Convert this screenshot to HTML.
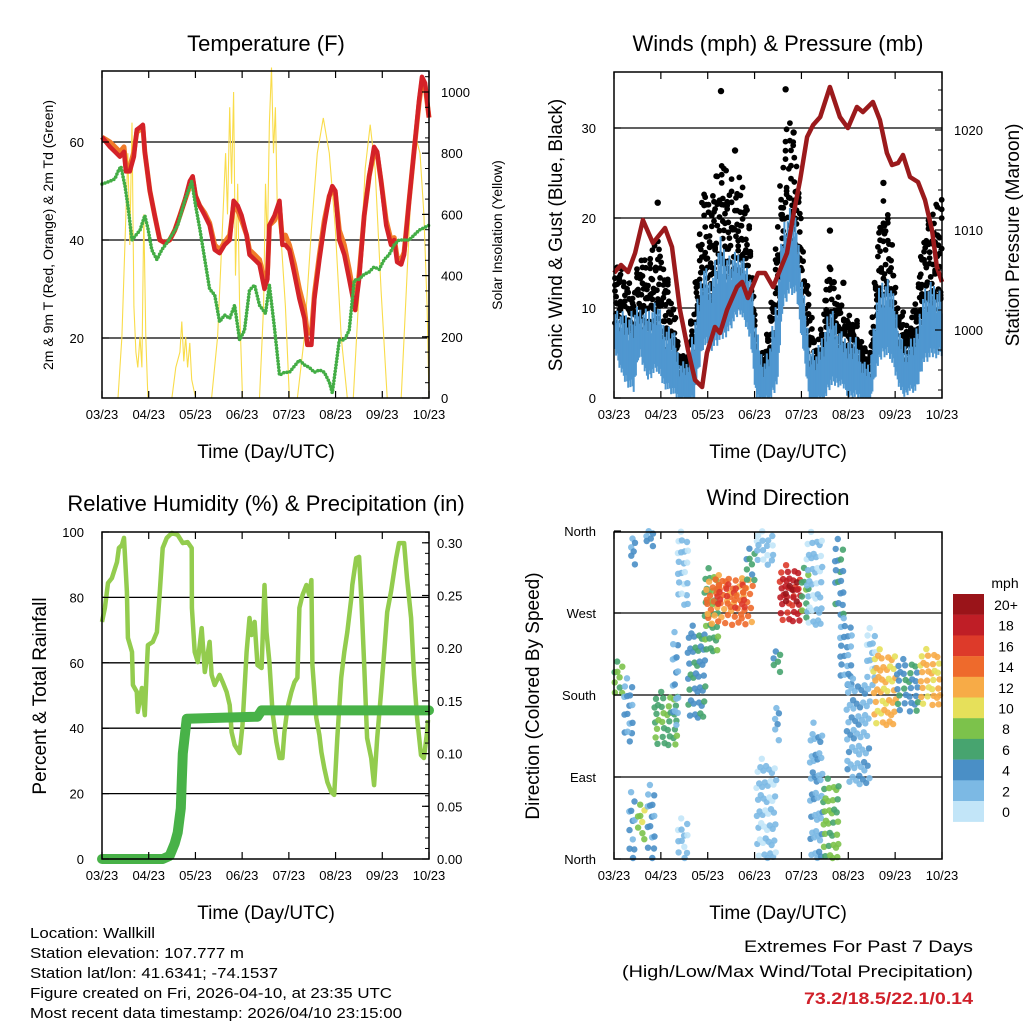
<!DOCTYPE html>
<html><head><meta charset="utf-8"><style>
html,body{margin:0;padding:0;background:#fff}
svg{display:block;font-family:"Liberation Sans",Arial,sans-serif}
</style></head><body>
<svg id="c" width="1024" height="1024" viewBox="0 0 1024 1024" xmlns="http://www.w3.org/2000/svg"></svg>
<script>
// ---------- DATA ----------
const xTickLabels = ["03/23","04/23","05/23","06/23","07/23","08/23","09/23","10/23"];
const tempH = [0,4.1,6.7,9.2,11.3,12.3,14.3,16.4,17.9,19.5,21,22,24.6,27.1,29.7,32.3,34.8,37.4,40,42.5,45.1,46.6,48.1,50.2,52.8,55.3,57.9,60.4,63,65.6,67.6,69.7,71.7,74.3,75.8,78.4,80.9,83.5,85,86,88.6,91.2,92.7,94.2,96.3,98.9,101.4,104,105.5,107.6,109.1,111.7,114.2,116.8,118.3,119.9,121.9,124.5,127,130.1,132.1,134.7,137.3,139.8,141.4,143.4,146,148.5,150.1,151.6,153.7,155.2,157.8,160.3,162.9,164.4,166,168];
const temp2m = [61,59,58,57,58,54,54,57,62.5,63,63.5,58,50,45,40,39.4,40,42,45,48,52,53,49,47,45,43,38,37.3,39,40,48,47,45,41,37,36,35,30,32,43,45,48,39,39,38,33,28,24,18.6,18.6,28,36,43,49,51,50,40,37,32,25.7,32,45,53,59,58,52,43,39,40,35.5,35,37,48,58,68.6,73.3,72,65];
const temp9m = [61,60,59,58,59,55,55,58,62,62.5,63,58,50,45,40,39.4,40,42,45,48,51,52.5,49,47,45.5,43.5,39,38,39.5,41,47,46,44,41,38,37,36,32,33,43,44,47,40,41,39,35,30,26,21,21,29,37,44,49,50,49.5,42,39,34,27,33,45,53,58,57.5,52,44,40,40.5,36.5,36,37.5,48,58,68,72.5,71.5,65];
const dewH = [0,4.1,6.7,8.2,9.7,11.8,13.3,15.4,17.4,19.5,22,23.6,25.6,28.2,30.7,33.3,35.9,38.9,42.5,46.1,48.1,50.2,52.8,55.3,57.9,60.4,63,65.6,68.1,70.7,73.2,75.8,78.4,80.9,84,86,88.6,91.2,93.7,96.3,101.4,104,106.5,109.1,111.7,114.2,116.8,118.3,120.4,121.9,124.5,127,129.6,132.1,134.7,137.3,139.8,142.4,145,147.5,150.1,152.6,157.8,162.9,168];
const dewV = [51.4,52,52.5,54,55,51,47,40,41,42,45,42.4,38,36,38,39.4,41,43,48,52,47,42.4,36,30,28.8,23.3,24.7,24,26.7,19.6,21.6,29.8,30.8,26.7,25,30.8,22,12.4,13,13,15.5,14.5,14,13,13.5,13,11,8.8,15,19.6,19.6,21.6,31.8,32,33,33.5,34.5,34,36,37,39,40,40,42,43];
const solarH = [0,8.2,10.2,12.3,13.3,14.3,15.4,16.4,17.4,18.4,19.5,20.5,21.5,22.5,23.6,35.9,37.9,40,41,42,43,44,45.1,46.1,48.1,56.3,59.4,61.5,63.5,64.5,65.6,66.6,67.6,68.6,69.7,70.7,72.2,80.9,83,84,85,86,87.1,88.1,89.1,90.1,92.2,94.2,96.3,100.4,104,107.6,110.6,113.7,116.8,119.9,122.9,126,129.1,132.1,135.2,137.8,140.3,143.4,146.5,153.7,156.7,159.3,161.3,163.4,165.4,167,168];
const solarV = [0,0,200,600,800,500,900,300,150,100,200,100,600,200,0,0,100,150,250,120,200,100,180,60,0,0,200,500,800,600,950,700,1000,400,700,300,0,0,300,700,500,900,1080,800,950,600,500,300,0,0,200,550,800,915,800,550,200,0,0,350,750,893,750,350,0,0,400,750,850,800,600,300,0];
const windH = [0,4.8,10,13.3,16.7,21.9,25.3,30.4,33.8,37.2,40.6,45.8,49.2,54.3,59.4,64.5,69.7,73.1,76.5,79.9,83.3,86.7,90.1,93.6,97,100.4,103.8,107.2,110.6,114,117.5,120.9,124.3,127.7,131.1,134.5,137.9,141.4,144.8,148.2,151.6,155,158.4,163.5,167.8];
const sustHi = [10.2,9.8,10.2,10.2,10.2,11.3,8.7,7.9,4.2,4.2,7.9,15.7,13.5,18.3,16.1,16.5,14.6,7.9,4.2,6.1,11.6,20.2,21.6,19.8,12.4,6.1,5.3,7.9,10.5,8.7,7.2,7.2,6.8,4.2,4.2,11.6,13.9,13.5,9.8,6.1,6.8,7.9,12.4,13.1,12];
const sustLo = [6.1,3.1,2,5.7,3.1,4.2,2.4,1.3,0.2,0.2,0.5,7.2,6.5,7.9,8.7,10.5,7.9,0.5,0.2,0.5,2.4,11.6,13.1,12.4,6.1,0.2,0.2,0.5,2.4,2.4,2,0.9,0.9,0.2,0,4.2,6.1,5.7,3.1,0.9,1.6,1.6,5,5.7,5.7];
const gustHi = [15.3,14.2,12,16.8,15.3,18.3,14.6,11.6,5,5,11.6,24.2,22,26.4,24.6,25,19.8,5,5.3,9.4,18.3,29,32,28,17.2,11.6,5.3,9.8,15.3,11.6,10.2,9.4,9.1,6.1,5,17.2,22.7,19.8,11.6,10.5,7.9,11.6,18.3,21.6,22.7];
const gustOutH = [54.8,87.9,22.4,138,110.6,43.2,117.5,62,92];
const gustOutV = [34.1,34.3,21.7,23.9,18.6,12.5,12.8,27.5,29.5];
const presH = [0,3.6,7.2,10.8,14.8,19.9,26.1,29.7,33.8,37.9,41.5,45.1,47.6,51.7,54.3,57.9,63,65.6,68.6,73.8,77.4,81.5,85,88.6,91.7,95.3,98.9,102,105.6,110.6,115.7,119.8,124.4,127.5,132.6,136.2,139.8,142.4,145.5,148,151.6,155.7,159.3,162.9,165.4,168];
const presV = [1005.7,1006.5,1005.8,1007.7,1011,1008.7,1010.2,1008.3,1002,998,995,994.3,997.7,1000.3,999.7,1002,1004.3,1004.8,1003.2,1005.7,1005.7,1004.3,1006,1007.7,1011.3,1015,1019.3,1020.5,1021.3,1024.3,1021.3,1020.2,1022.3,1021.8,1022.8,1021,1017.7,1016.5,1016.7,1017.5,1015.3,1014.8,1013,1010,1006.3,1004.8];
const rhH = [0,1.5,3.1,5.1,7.7,8.7,10.2,11.3,12.8,13.3,15.4,15.9,17.9,18.4,20.5,22,23,23.6,26.1,28.2,29.7,31.2,33.3,35.9,38.9,41.5,44,46.1,46.2,47.6,49.2,51.2,52.8,55.3,56.3,57.9,60.4,62,64,65.6,66.6,68.1,70.7,72.2,74.3,75.8,76.8,78.4,79.9,82,83.5,84.5,86,87.6,89.6,91.2,92.7,93.7,95.3,97.3,98.9,100.4,101.4,103,105,106.5,107.6,108.1,110.1,111.7,112.7,114.2,115.8,117.8,119.3,120.9,122.9,124.5,126,128.1,128.6,130.6,132.1,133.2,134.7,136.2,138.3,139.8,141.4,143.4,145,146.5,148.5,151.1,152.6,155.2,156.7,158.8,160.3,161.9,163.9,165.4,167,167.5];
const rhV = [72.5,76.8,84.4,85.9,90.8,95.1,96,98.2,81.7,67.6,63.3,53.2,51.1,45,52.3,44,58.4,65.4,66.4,69.4,81.7,95.1,98.2,99.7,99.1,96.6,96.9,95.1,76.8,63.3,60.2,70.6,57.2,66.4,56.3,53.2,56.3,54.1,51.1,47.1,38.8,34.9,32.4,41,63.3,73.7,68.5,72.5,59.3,58.4,83.8,69.4,60.2,45,35.8,30.9,30.9,38.8,46.2,51.1,54.1,55.4,76.8,80.7,83.8,80.7,85.3,59.3,43.1,37.9,32.7,27.8,23.5,20.5,19.6,37,55.4,63.3,69.4,79.8,83.8,92,92.4,79.8,59.3,37,30.9,22.6,37,51.1,63.3,75.5,81.7,92,96.6,96.6,85.9,73.7,56.3,43.1,31.8,30.9,38.8,42.5];
const precipH = [0,31.2,34.8,37.4,38.9,40.5,41,41.5,43.5,79.9,82,168];
const precipV = [0,0,0.003,0.015,0.025,0.048,0.075,0.1,0.133,0.135,0.141,0.141];
const dirH0 = [0,5.1,8.6,16.3,7.7,12,17.1,20.6,32.6,32.6,30,37.7,46.3,47.1,52.3,67.7,72.9,72.9,81.4,82.3,84.8,87.4,96,98.6,100.3,107.1,113.1,115.7,119.1,129.4,132.8,144.8,156.8];
const dirH1 = [5.1,10.3,11.1,20.6,11.1,16.3,21.4,33.4,38.6,38.6,33.4,47.1,54,71.1,69.4,72.9,83.1,83.1,85.7,84.8,96.8,95.1,100.3,107.1,107.1,115.7,118.3,122.6,131.1,134.6,144.8,156.8,168];
const dirD0 = [177,129,319,341,1,16,1,125,279,1,147,155,228,257,276,301,323,1,202,125,261,279,265,257,1,1,268,191,82,191,147,162,169];
const dirD1 = [217,199,352,360,74,60,82,184,360,45,250,257,320,312,305,341,360,111,228,166,323,308,320,360,151,89,352,265,199,254,231,220,231];
const dirS = [8,4,4,4,4,9,4,7,2,2,3,5,7,14,16,6,2,2,6,3,18,20,7,2,3,8,5,4,3,2,12,5,12];
const speedLabels = ["20+","18","16","14","12","10","8","6","4","2","0"];
const speedColors = ["#c2e5f8","#7cb9e4","#4a8fc6","#47a46f","#7cc24b","#e6e05a","#f7ab47","#ee6a2c","#dd3a2a","#bf1e26","#9a1419"];

// ---------- HELPERS ----------
const NS="http://www.w3.org/2000/svg";
const svg=document.getElementById('c');
function mk(tag,attrs,parent){const e=document.createElementNS(NS,tag);for(const k in attrs)e.setAttribute(k,attrs[k]);(parent||svg).appendChild(e);return e;}
function txt(s,x,y,size,anchor,parent,extra){const e=mk('text',Object.assign({x:x,y:y,'font-size':size,'text-anchor':anchor||'middle',fill:'#000'},extra||{}),parent);e.textContent=s;return e;}
function grp(name){const g=mk('g',{});return g;}
function linePath(xs,ys,fx,fy){return xs.map((v,i)=>(i?'L':'M')+fx(v).toFixed(1)+','+fy(ys[i]).toFixed(1)).join('');}
function interp(xs,ys,x){if(x<=xs[0])return ys[0];for(let i=1;i<xs.length;i++){if(x<=xs[i]){const f=(x-xs[i-1])/(xs[i]-xs[i-1]);return ys[i-1]+f*(ys[i]-ys[i-1]);}}return ys[ys.length-1];}

function frame(P,name){
  const g=grp(name);
  P.grid.forEach(v=>{const y=P.yl(v);mk('line',{x1:P.x0,x2:P.x1,y1:y,y2:y,stroke:'#000','stroke-width':1.3},g);});
  return g;
}
function borders(P,name,leftTicks,leftLabels,rightTicks,rightLabels,rightMinor){
  const g=grp(name);
  mk('rect',{x:P.x0,y:P.y0,width:P.x1-P.x0,height:P.y1-P.y0,fill:'none',stroke:'#000','stroke-width':1.5},g);
  for(let i=0;i<8;i++){const x=P.x0+i*(P.x1-P.x0)/7;
    mk('line',{x1:x,x2:x,y1:P.y1,y2:P.y1-7,stroke:'#000','stroke-width':1.2},g);
    mk('line',{x1:x,x2:x,y1:P.y0,y2:P.y0+7,stroke:'#000','stroke-width':1.2},g);
    const t=txt(xTickLabels[i],x,P.y1+21,13,'middle',g);
    
  }
  const gl=grp(name+'-left-axis');
  leftTicks.forEach((v,i)=>{const y=P.yl(v);mk('line',{x1:P.x0,x2:P.x0+7,y1:y,y2:y,stroke:'#000','stroke-width':1.2},gl);
    const t=txt(leftLabels[i],P.x0-P.lpad,y+5,13,'end',gl);});
  const gr=grp(name+'-right-axis');
  if(rightMinor)rightMinor.forEach(v=>{const y=P.yr(v);mk('line',{x1:P.x1,x2:P.x1-4,y1:y,y2:y,stroke:'#000','stroke-width':1},gr);});
  rightTicks.forEach((v,i)=>{const y=P.yr(v);mk('line',{x1:P.x1,x2:P.x1-7,y1:y,y2:y,stroke:'#000','stroke-width':1.2},gr);
    if(rightLabels){const t=txt(rightLabels[i],P.x1+P.rpad,y+5,13,'start',gr);}});
}
function range(a,b,s){const r=[];for(let v=a;v<=b+1e-9;v+=s)r.push(+v.toFixed(4));return r;}

// ---------- PANEL 1: TEMPERATURE ----------
const P1={x0:102,x1:429,y0:71,y1:398,lpad:18,rpad:12,grid:[20,40,60]};
P1.x=h=>P1.x0+h*(P1.x1-P1.x0)/168; P1.yl=v=>338-(v-20)*4.9; P1.yr=v=>398-v*0.306;
frame(P1,'temperature-grid');
{const g=grp('temperature-series');
 const ps=mk('path',{d:linePath(solarH,solarV,P1.x,P1.yr),fill:'none',stroke:'#f9dc4a','stroke-width':1.1},g);
 
 const po=mk('path',{d:linePath(tempH,temp9m,P1.x,P1.yl),fill:'none',stroke:'#f07b2a','stroke-width':5,'stroke-linejoin':'round'},g);
 
 const pr=mk('path',{d:linePath(tempH,temp2m,P1.x,P1.yl),fill:'none',stroke:'#d42228','stroke-width':4.5,'stroke-linejoin':'round'},g);
 
 const pd=mk('path',{d:linePath(dewH,dewV,P1.x,P1.yl),fill:'none',stroke:'#43ad45','stroke-width':3.6,'stroke-dasharray':'0 3.2','stroke-linecap':'round'},g);
 
}
borders(P1,'temperature-axes',[20,40,60],['20','40','60'],range(0,1000,200),['0','200','400','600','800','1000'],range(0,1050,50));

// ---------- PANEL 2: WINDS ----------
const P2={x0:614,x1:942,y0:72,y1:398,lpad:18,rpad:12,grid:[10,20,30]};
P2.x=h=>P2.x0+h*(P2.x1-P2.x0)/168; P2.yl=v=>398-v*9; P2.yr=p=>330-(p-1000)*10;
frame(P2,'winds-grid');
{const gk=grp('gust-scatter');
 const gb=grp('sustained-wind-band');
 let k=0;
 for(let px=P2.x0+1;px<P2.x1;px+=1.1){
   k++;
   const h=(px-P2.x0)*168/(P2.x1-P2.x0);
   const lo=interp(windH,sustLo,h),hi=interp(windH,sustHi,h),gh=interp(windH,gustHi,h);
   const base=lo+(hi-lo)*0.4;
   const fa=(k*0.7548777)%1, fb=(k*0.5698403)%1, fc=(k*0.3247)%1;
   [fa, fb, fc*fc, Math.sqrt(fa*fb)].forEach(f=>{
     const v=base+(gh-base)*f;
     const c=mk('circle',{cx:px.toFixed(1),cy:P2.yl(v).toFixed(1),r:2.9,fill:'#000'},gk);
     
     
   });
   const fr=(k*0.618034)%1;
   const top=lo+(hi-lo)*(0.5+0.5*fr);
   const bot=Math.max(0,lo-(hi-lo)*0.2*((k*0.381966)%1));
   const l=mk('line',{x1:px.toFixed(1),x2:px.toFixed(1),y1:P2.yl(bot).toFixed(1),y2:P2.yl(top).toFixed(1),stroke:'#4f97d0','stroke-width':2},gb);
   
   
 }
 svg.insertBefore(gk,gb);
 gustOutH.forEach((h,i)=>{const c=mk('circle',{cx:P2.x(h),cy:P2.yl(gustOutV[i]),r:3.2,fill:'#000'},gk);
   });
 const g=grp('pressure-series');
 const pp=mk('path',{d:linePath(presH,presV,P2.x,P2.yr),fill:'none',stroke:'#9b1a1c','stroke-width':4.5,'stroke-linejoin':'round'},g);
 
}
borders(P2,'winds-axes',[0,10,20,30],['0','10','20','30'],[1000,1010,1020],['1000','1010','1020'],range(994,1025,2));

// ---------- PANEL 3: RH & PRECIP ----------
const P3={x0:102,x1:429,y0:532,y1:859,lpad:18,rpad:8,grid:[20,40,60,80]};
P3.x=h=>P3.x0+h*(P3.x1-P3.x0)/168; P3.yl=v=>859-v*3.27; P3.yr=p=>859-p*1054;
frame(P3,'humidity-grid');
{const g=grp('humidity-series');
 const pr=mk('path',{d:linePath(rhH,rhV,P3.x,P3.yl),fill:'none',stroke:'#93cc4e','stroke-width':4.5,'stroke-linejoin':'round'},g);
 
 const pp=mk('path',{d:linePath(precipH,precipV,P3.x,P3.yr),fill:'none',stroke:'#48b248','stroke-width':10,'stroke-linecap':'round','stroke-linejoin':'round'},g);
 
}
borders(P3,'humidity-axes',[0,20,40,60,80,100],['0','20','40','60','80','100'],range(0,0.3,0.05),['0.00','0.05','0.10','0.15','0.20','0.25','0.30'],range(0,0.31,0.01));

// ---------- PANEL 4: WIND DIRECTION ----------
const P4={x0:614,x1:942,y0:532,y1:859,lpad:18,rpad:8,grid:[90,180,270]};
P4.x=h=>P4.x0+h*(P4.x1-P4.x0)/168; P4.yl=d=>859-d*328/360; P4.yr=P4.yl;
frame(P4,'direction-grid');
function spColor(s){return speedColors[Math.max(0,Math.min(10,Math.floor(s/2)))];}
{const g=grp('direction-points');
 dirH0.forEach((h0,k)=>{
   const h1=dirH1[k],d0=dirD0[k],d1=dirD1[k];
   const w=P4.x(h1)-P4.x(h0),hgt=P4.yl(d0)-P4.yl(d1);
   const n=Math.max(6,Math.round(w*hgt/40));
   for(let i=0;i<n;i++){
     const fx=((i*0.7548777)+0.5/n)%1, fy=((i*0.5698403)+0.3)%1;
     const c=mk('circle',{cx:(P4.x(h0)+fx*w).toFixed(1),cy:(P4.yl(d1)+fy*hgt).toFixed(1),r:3.2,fill:spColor(dirS[k]+((i%3)-1)),'fill-opacity':0.9},g);
     
     
   }
 });
}
borders(P4,'direction-axes',[0,90,180,270,360],['North','East','South','West','North'],[],null,null);

{const g=grp('speed-legend');
 txt('mph',1005,588,14,'middle',g);
 speedLabels.forEach((l,i)=>{
   const r=mk('rect',{x:953,y:594+i*20.7,width:31,height:20.9,fill:speedColors[10-i]},g);
   
   const t=txt(l,1006,594+i*20.7+16,14,'middle',g);
 });
}

// ---------- TITLES ----------
function named(e,n){}
named(txt('Temperature (F)',266,51,22),'temperature-title');
named(txt('Winds (mph) & Pressure (mb)',778,51,22),'winds-title');
named(txt('Relative Humidity (%) & Precipitation (in)',266,511,22),'humidity-title');
named(txt('Wind Direction',778,505,22),'direction-title');
['x-axis-title-temp','x-axis-title-winds','x-axis-title-humidity','x-axis-title-direction'].forEach((n,i)=>{
  named(txt('Time (Day/UTC)',[266,778,266,778][i],[458,458,919,919][i],19),n);});
function vt(s,x,y,size,n){const e=txt(s,0,0,size,'middle');e.setAttribute('transform','translate('+x+','+y+') rotate(-90)');named(e,n);}
vt('2m & 9m T (Red, Orange) & 2m Td (Green)',53,235,14,'temperature-y-title');
vt('Solar Insolation (Yellow)',502,235,14,'solar-y-title');
vt('Sonic Wind & Gust (Blue, Black)',562,235,19,'wind-y-title');
vt('Station Pressure (Maroon)',1019,235,19,'pressure-y-title');
vt('Percent & Total Rainfall',46,696,19,'humidity-y-title');
vt('Direction (Colored By Speed)',539,696,19,'direction-y-title');

// ---------- FOOTER ----------
{const g=grp('station-info');
 const lines=['Location: Wallkill','Station elevation: 107.777 m','Station lat/lon: 41.6341; -74.1537','Figure created on Fri, 2026-04-10, at 23:35 UTC','Most recent data timestamp: 2026/04/10 23:15:00'];
 const widths=[125,214,248,362,372];
 lines.forEach((l,i)=>{const t=txt(l,30,938+i*20,15,'start',g,{textLength:widths[i],lengthAdjust:'spacingAndGlyphs'});named(t,'station-info-line');});
 named(txt('Extremes For Past 7 Days',973,952,17,'end',g,{textLength:229,lengthAdjust:'spacingAndGlyphs'}),'extremes-title');
 named(txt('(High/Low/Max Wind/Total Precipitation)',973,977,17,'end',g,{textLength:351,lengthAdjust:'spacingAndGlyphs'}),'extremes-subtitle');
 named(txt('73.2/18.5/22.1/0.14',973,1004,17,'end',g,{fill:'#d0202a','font-weight':'bold',textLength:169,lengthAdjust:'spacingAndGlyphs'}),'extremes-values');
}
</script>
</body></html>
